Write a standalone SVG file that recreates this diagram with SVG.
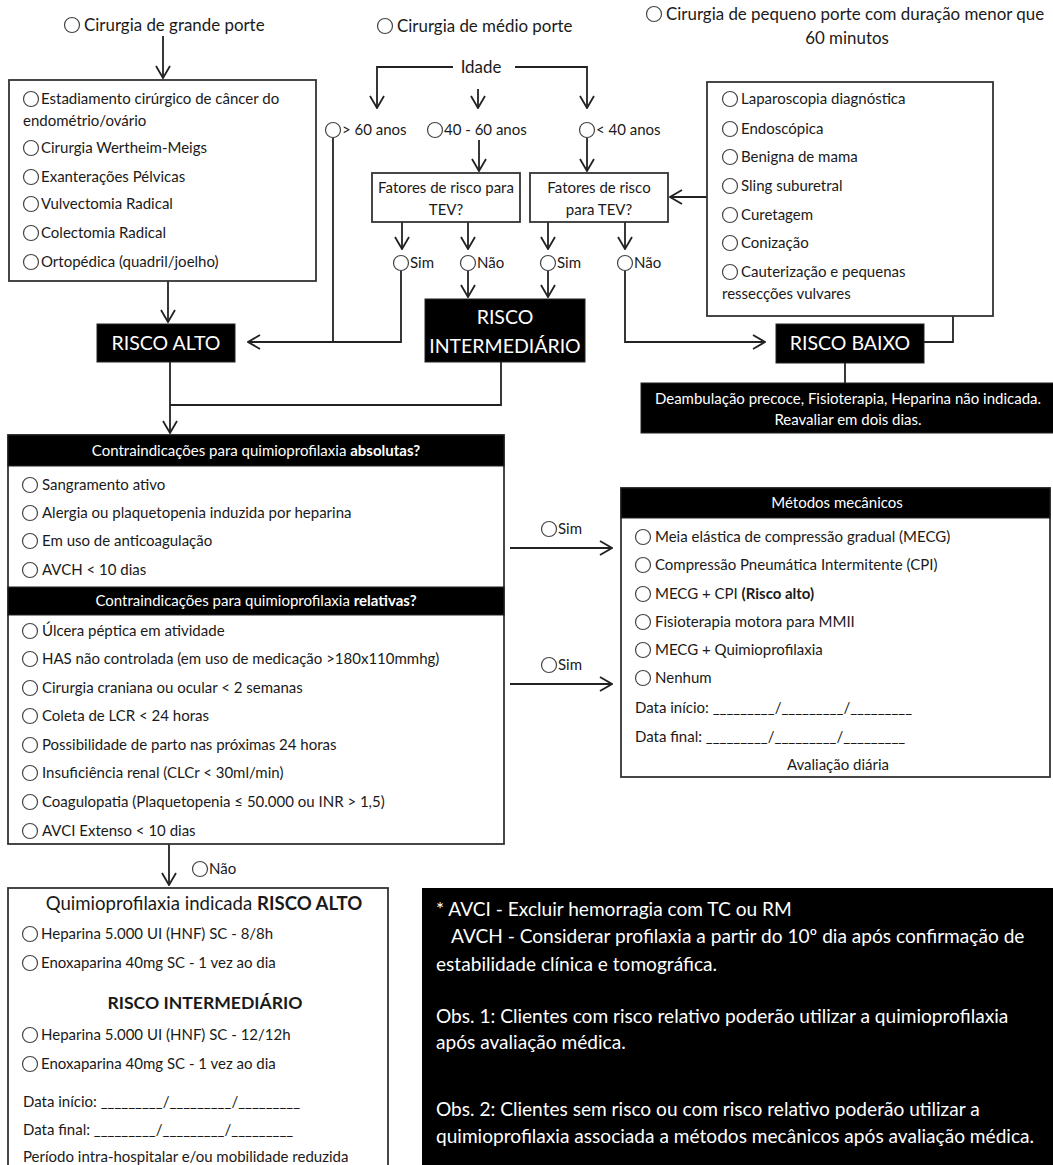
<svg xmlns="http://www.w3.org/2000/svg" width="1053" height="1165" viewBox="0 0 1053 1165">
<defs>
<marker id="arr" viewBox="0 0 14 16" refX="13" refY="8" markerWidth="14" markerHeight="16" markerUnits="userSpaceOnUse" orient="auto">
<path d="M1,1 L13,8 L1,15" fill="none" stroke="#222" stroke-width="1.8"/>
</marker>
<style>
text{font-family:Lato,"Liberation Sans",sans-serif;fill:#1a1a1a}
.f14{font-size:15px}
.f16{font-size:16.9px}
.f18{font-size:18.6px}
.f17{font-size:17.6px}
.fn{font-size:19.1px}
.f19{font-size:19.5px}
.w{fill:#fff}
.c{text-anchor:middle}
.b{font-weight:bold}
.box{fill:#fff;stroke:#333;stroke-width:1.8}
.blk{fill:#000;stroke:#222;stroke-width:1}
.rb{fill:#fff;stroke:#444;stroke-width:1.2}
.ln{fill:none;stroke:#222;stroke-width:1.8}
.ar{fill:none;stroke:#222;stroke-width:1.8;marker-end:url(#arr)}
</style>
</defs>
<rect width="1053" height="1165" fill="#fff"/>

<g id="connectors">
<path class="ar" d="M163,36 V78"/>
<path class="ar" d="M168,281 V322"/>
<path class="ar" d="M453,67 H377 V108"/>
<path class="ar" d="M515,67 H587 V108"/>
<path class="ar" d="M478,89 V108"/>
<path class="ar" d="M479,140 V171"/>
<path class="ar" d="M587,138 V171"/>
<path class="ar" d="M402,222 V249"/>
<path class="ar" d="M468,222 V249"/>
<path class="ar" d="M548,222 V249"/>
<path class="ar" d="M625,222 V249"/>
<path class="ar" d="M468,271 V297"/>
<path class="ar" d="M548,271 V297"/>
<path class="ln" d="M333,138 V342"/>
<path class="ar" d="M401,271 V342 H248"/>
<path class="ar" d="M625,271 V342 H765"/>
<path class="ar" d="M707,197 H670"/>
<path class="ln" d="M953,316 V342 H924"/>
<path class="ln" d="M845,363 V383"/>
<path class="ar" d="M170,362 V433"/>
<path class="ln" d="M501,362 V405 H170"/>
<path class="ar" d="M510,548 H612"/>
<path class="ar" d="M510,684 H612"/>
<path class="ar" d="M169,844 V885"/>
</g>

<g id="grande-porte">
<circle class="rb" cx="72" cy="25" r="7.5"/>
<text class="f16" x="84" y="31">Cirurgia de grande porte</text>
</g>
<g id="medio-porte">
<circle class="rb" cx="385" cy="26" r="7.5"/>
<text class="f16" x="397" y="32">Cirurgia de médio porte</text>
</g>
<g id="pequeno-porte">
<circle class="rb" cx="654" cy="14" r="7.5"/>
<text class="f16" x="666" y="20">Cirurgia de pequeno porte com duração menor que</text>
<text class="f16 c" x="847" y="44">60 minutos</text>
</g>

<g id="grande-list">
<rect class="box" x="9" y="80" width="307" height="201"/>
<circle class="rb" cx="31" cy="99" r="7.5"/><text class="f14" x="41" y="104">Estadiamento cirúrgico de câncer do</text>
<text class="f14" x="23" y="126">endométrio/ovário</text>
<circle class="rb" cx="31" cy="148" r="7.5"/><text class="f14" x="41" y="153">Cirurgia Wertheim-Meigs</text>
<circle class="rb" cx="31" cy="177" r="7.5"/><text class="f14" x="41" y="182">Exanterações Pélvicas</text>
<circle class="rb" cx="31" cy="204" r="7.5"/><text class="f14" x="41" y="209">Vulvectomia Radical</text>
<circle class="rb" cx="31" cy="233" r="7.5"/><text class="f14" x="41" y="238">Colectomia Radical</text>
<circle class="rb" cx="31" cy="262" r="7.5"/><text class="f14" x="41" y="267">Ortopédica (quadril/joelho)</text>
</g>

<g id="idade">
<text class="f16 c" x="481" y="73">Idade</text>
</g>
<g id="idade-60">
<circle class="rb" cx="333" cy="130" r="7.5"/><text class="f14" x="342" y="135">&gt; 60 anos</text>
</g>
<g id="idade-40-60">
<circle class="rb" cx="435" cy="130" r="7.5"/><text class="f14" x="444" y="135">40 - 60 anos</text>
</g>
<g id="idade-40">
<circle class="rb" cx="587" cy="130" r="7.5"/><text class="f14" x="596" y="135">&lt; 40 anos</text>
</g>

<g id="fatores-1">
<rect class="box" x="372" y="173" width="148" height="49"/>
<text class="f14 c" x="446" y="193">Fatores de risco para</text>
<text class="f14 c" x="446" y="215">TEV?</text>
</g>
<g id="fatores-2">
<rect class="box" x="530" y="173" width="138" height="49"/>
<text class="f14 c" x="599" y="193">Fatores de risco</text>
<text class="f14 c" x="599" y="215">para TEV?</text>
</g>

<g id="sim-1"><circle class="rb" cx="401" cy="263" r="7.5"/><text class="f14" x="410" y="268">Sim</text></g>
<g id="nao-1"><circle class="rb" cx="468" cy="263" r="7.5"/><text class="f14" x="477" y="268">Não</text></g>
<g id="sim-2"><circle class="rb" cx="548" cy="263" r="7.5"/><text class="f14" x="557" y="268">Sim</text></g>
<g id="nao-2"><circle class="rb" cx="625" cy="263" r="7.5"/><text class="f14" x="634" y="268">Não</text></g>

<g id="pequeno-list">
<rect class="box" x="707" y="82" width="286" height="234"/>
<circle class="rb" cx="730" cy="99" r="7.5"/><text class="f14" x="741" y="104">Laparoscopia diagnóstica</text>
<circle class="rb" cx="730" cy="129" r="7.5"/><text class="f14" x="741" y="134">Endoscópica</text>
<circle class="rb" cx="730" cy="157" r="7.5"/><text class="f14" x="741" y="162">Benigna de mama</text>
<circle class="rb" cx="730" cy="186" r="7.5"/><text class="f14" x="741" y="191">Sling suburetral</text>
<circle class="rb" cx="730" cy="215" r="7.5"/><text class="f14" x="741" y="220">Curetagem</text>
<circle class="rb" cx="730" cy="243" r="7.5"/><text class="f14" x="741" y="248">Conização</text>
<circle class="rb" cx="730" cy="272" r="7.5"/><text class="f14" x="741" y="277">Cauterização e pequenas</text>
<text class="f14" x="722" y="299">ressecções vulvares</text>
</g>

<g id="risco-alto">
<rect class="blk" x="97" y="324" width="138" height="38"/>
<text class="f19 w c" x="166" y="350">RISCO ALTO</text>
</g>
<g id="risco-intermediario">
<rect class="blk" x="425" y="299" width="160" height="63"/>
<text class="f19 w c" x="505" y="324">RISCO</text>
<text class="f19 w c" x="505" y="353">INTERMEDIÁRIO</text>
</g>
<g id="risco-baixo">
<rect class="blk" x="776" y="324" width="148" height="39"/>
<text class="f19 w c" x="850" y="350">RISCO BAIXO</text>
</g>
<g id="deambulacao">
<rect class="blk" x="641" y="383" width="414" height="50"/>
<text class="f14 w c" x="848" y="404">Deambulação precoce, Fisioterapia, Heparina não indicada.</text>
<text class="f14 w c" x="848" y="425">Reavaliar em dois dias.</text>
</g>

<g id="contraindicacoes">
<rect class="box" x="8" y="435" width="496" height="409"/>
<rect class="blk" x="8" y="435" width="496" height="31"/>
<text class="f14 w c" x="256" y="456">Contraindicações para quimioprofilaxia <tspan class="b w">absolutas?</tspan></text>
<circle class="rb" cx="30" cy="485" r="7.5"/><text class="f14" x="42" y="490">Sangramento ativo</text>
<circle class="rb" cx="30" cy="513" r="7.5"/><text class="f14" x="42" y="518">Alergia ou plaquetopenia induzida por heparina</text>
<circle class="rb" cx="30" cy="541" r="7.5"/><text class="f14" x="42" y="546">Em uso de anticoagulação</text>
<circle class="rb" cx="30" cy="570" r="7.5"/><text class="f14" x="42" y="575">AVCH &lt; 10 dias</text>
<rect class="blk" x="8" y="587" width="496" height="28"/>
<text class="f14 w c" x="256" y="606">Contraindicações para quimioprofilaxia <tspan class="b w">relativas?</tspan></text>
<circle class="rb" cx="30" cy="631" r="7.5"/><text class="f14" x="42" y="636">Úlcera péptica em atividade</text>
<circle class="rb" cx="30" cy="659" r="7.5"/><text class="f14" x="42" y="664">HAS não controlada (em uso de medicação &gt;180x110mmhg)</text>
<circle class="rb" cx="30" cy="688" r="7.5"/><text class="f14" x="42" y="693">Cirurgia craniana ou ocular &lt; 2 semanas</text>
<circle class="rb" cx="30" cy="716" r="7.5"/><text class="f14" x="42" y="721">Coleta de LCR &lt; 24 horas</text>
<circle class="rb" cx="30" cy="745" r="7.5"/><text class="f14" x="42" y="750">Possibilidade de parto nas próximas 24 horas</text>
<circle class="rb" cx="30" cy="773" r="7.5"/><text class="f14" x="42" y="778">Insuficiência renal (CLCr &lt; 30ml/min)</text>
<circle class="rb" cx="30" cy="802" r="7.5"/><text class="f14" x="42" y="807">Coagulopatia (Plaquetopenia ≤ 50.000 ou INR &gt; 1,5)</text>
<circle class="rb" cx="30" cy="831" r="7.5"/><text class="f14" x="42" y="836">AVCI Extenso &lt; 10 dias</text>
</g>

<g id="sim-abs"><circle class="rb" cx="549" cy="529" r="7.5"/><text class="f14" x="558" y="534">Sim</text></g>
<g id="sim-rel"><circle class="rb" cx="549" cy="665" r="7.5"/><text class="f14" x="558" y="670">Sim</text></g>
<g id="nao-contra"><circle class="rb" cx="200" cy="869" r="7.5"/><text class="f14" x="209" y="874">Não</text></g>

<g id="metodos">
<rect class="box" x="621" y="488" width="429" height="289"/>
<rect class="blk" x="621" y="488" width="429" height="30"/>
<text class="f14 w c" x="837" y="508">Métodos mecânicos</text>
<circle class="rb" cx="643" cy="537" r="7.5"/><text class="f14" x="655" y="542">Meia elástica de compressão gradual (MECG)</text>
<circle class="rb" cx="643" cy="565" r="7.5"/><text class="f14" x="655" y="570">Compressão Pneumática Intermitente (CPI)</text>
<circle class="rb" cx="643" cy="594" r="7.5"/><text class="f14" x="655" y="599">MECG + CPI <tspan class="b">(Risco alto)</tspan></text>
<circle class="rb" cx="643" cy="622" r="7.5"/><text class="f14" x="655" y="627">Fisioterapia motora para MMII</text>
<circle class="rb" cx="643" cy="650" r="7.5"/><text class="f14" x="655" y="655">MECG + Quimioprofilaxia</text>
<circle class="rb" cx="643" cy="678" r="7.5"/><text class="f14" x="655" y="683">Nenhum</text>
<text class="f14" x="635" y="713">Data início: _________/_________/_________</text>
<text class="f14" x="635" y="742">Data final:  _________/_________/_________</text>
<text class="f14 c" x="838" y="770">Avaliação diária</text>
</g>

<g id="quimioprofilaxia">
<rect class="box" x="8" y="888" width="380" height="290"/>
<text class="f18 c" x="204" y="910">Quimioprofilaxia indicada <tspan class="b">RISCO ALTO</tspan></text>
<circle class="rb" cx="30" cy="934" r="7.5"/><text class="f14" x="41" y="939">Heparina 5.000 UI (HNF) SC - 8/8h</text>
<circle class="rb" cx="30" cy="963" r="7.5"/><text class="f14" x="41" y="968">Enoxaparina 40mg SC - 1 vez ao dia</text>
<text class="f17 c b" x="205" y="1009">RISCO INTERMEDIÁRIO</text>
<circle class="rb" cx="30" cy="1035" r="7.5"/><text class="f14" x="41" y="1040">Heparina 5.000 UI (HNF) SC - 12/12h</text>
<circle class="rb" cx="30" cy="1064" r="7.5"/><text class="f14" x="41" y="1069">Enoxaparina 40mg SC - 1 vez ao dia</text>
<text class="f14" x="23" y="1107">Data início: _________/_________/_________</text>
<text class="f14" x="23" y="1135">Data final:  _________/_________/_________</text>
<text class="f14" x="23" y="1162">Período intra-hospitalar e/ou mobilidade reduzida</text>
</g>

<g id="observacoes">
<rect x="422" y="888" width="640" height="290" fill="#000"/>
<text class="fn w" x="436" y="916">* AVCI - Excluir hemorragia com TC ou RM</text>
<text class="fn w" x="451" y="943">AVCH - Considerar profilaxia a partir do 10º dia após confirmação de</text>
<text class="fn w" x="436" y="971">estabilidade clínica e tomográfica.</text>
<text class="fn w" x="436" y="1023">Obs. 1: Clientes com risco relativo poderão utilizar a quimioprofilaxia</text>
<text class="fn w" x="436" y="1049">após avaliação médica.</text>
<text class="fn w" x="436" y="1116">Obs. 2: Clientes sem risco ou com risco relativo poderão utilizar a</text>
<text class="fn w" x="436" y="1143">quimioprofilaxia associada a métodos mecânicos após avaliação médica.</text>
</g>
</svg>
